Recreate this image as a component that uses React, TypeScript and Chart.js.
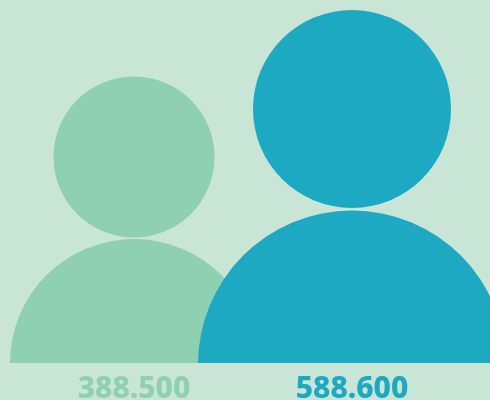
import React, { useEffect, useRef } from "react";
import { Chart, registerables } from "chart.js";

Chart.register(...registerables);

const valueLabels = ["388.500", "588.600"];
const personX = [134, 352];
const colors = ["#8fcfb2", "#1ca9c1"];
const headY = [206, 254];
const headR = [80.5, 99];
const bodyY = [0, -1.5];
const bodyR = [124, 154];
const background = "#c9e5d5";

export default function App() {
  const ref = useRef<HTMLCanvasElement>(null);
  useEffect(() => {
    const datasets: any[] = [];
    personX.forEach((x, i) => {
      datasets.push({
        label: "head " + valueLabels[i],
        data: [{ x, y: headY[i], r: headR[i] }],
        backgroundColor: colors[i],
        hoverRadius: 0,
        borderWidth: 0,
        clip: 0,
        order: personX.length - i,
      });
      datasets.push({
        label: "body " + valueLabels[i],
        data: [{ x, y: bodyY[i], r: bodyR[i] }],
        backgroundColor: colors[i],
        borderWidth: 0,
        clip: 0,
        order: personX.length - i,
      });
    });
    const chart = new Chart(ref.current!, {
      type: "bubble",
      data: { datasets },
      options: {
        animation: false,
        responsive: false,
        layout: { padding: 0, autoPadding: false },
        plugins: {
          legend: { display: false },
          tooltip: { enabled: false },
        },
        scales: {
          x: {
            type: "linear",
            min: 0,
            max: 490,
            grid: { display: false },
            border: { display: false },
            afterBuildTicks: (axis: any) => {
              axis.ticks = personX.map((value) => ({ value }));
            },
            afterFit: (axis: any) => {
              axis.height = 37;
            },
            ticks: {
              autoSkip: false,
              maxRotation: 0,
              padding: 0,
              font: { family: "'Noto Sans'", size: 30, weight: "800" },
              color: (ctx: any) => colors[personX.indexOf(ctx.tick.value)],
              callback: (value: any) => valueLabels[personX.indexOf(value)],
            },
          },
          y: {
            display: false,
            min: 0,
            max: 363,
          },
        },
      },
      plugins: [
        {
          id: "bg",
          beforeDraw: (c: any) => {
            c.ctx.save();
            c.ctx.fillStyle = background;
            c.ctx.fillRect(0, 0, c.width, c.height);
            c.ctx.restore();
          },
        },
      ],
    });
    return () => chart.destroy();
  }, []);
  return (
    <div style={{ position: "fixed", left: 0, top: 0, width: 490, height: 400 }}>
      <canvas ref={ref} width={490} height={400} style={{ display: "block" }} />
    </div>
  );
}
